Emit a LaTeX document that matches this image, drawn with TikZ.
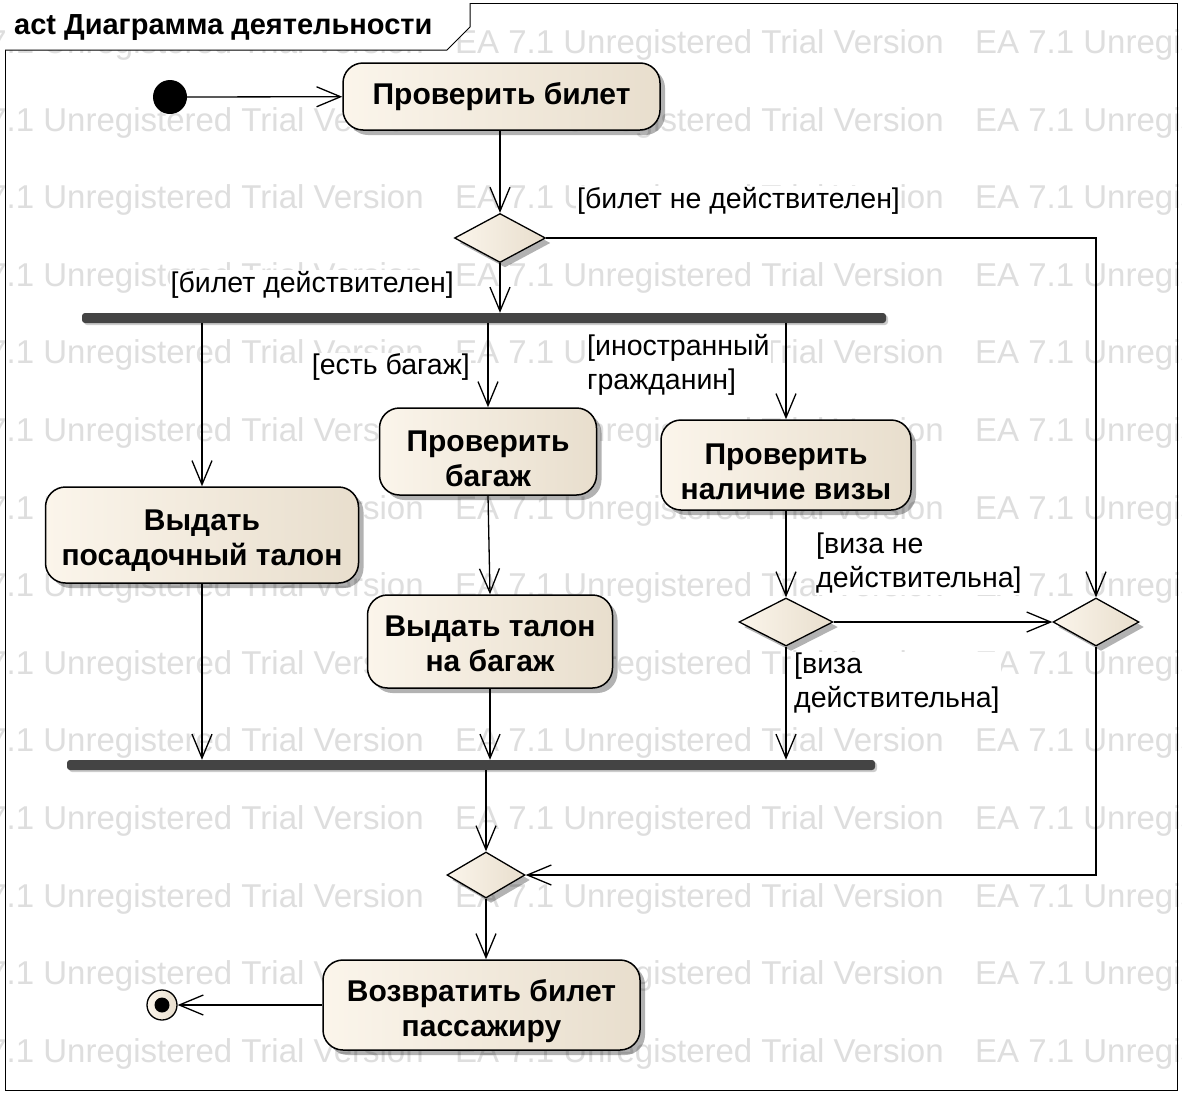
\documentclass[tikz,border=0pt]{standalone}
\usepackage{fontspec}
\setmainfont{Liberation Sans}
\usetikzlibrary{shapes.geometric,arrows.meta,shadows}
\definecolor{creamL}{HTML}{FBF5EB}
\definecolor{creamR}{HTML}{E8DECD}
\definecolor{barc}{HTML}{444444}
\definecolor{wmark}{HTML}{DEDEDE}
\newcommand\tpush[1]{\rule{0pt}{#1}}
\tikzset{
  shd/.style={drop shadow={shadow xshift=5pt,shadow yshift=-5pt,opacity=0.3,fill=black}},
  act/.style={rounded corners=20pt,draw=black,line width=1.5pt,left color=creamL,right color=creamR,shd,
    align=center,font=\bfseries\fontsize{30}{35}\selectfont,inner sep=2pt},
  dec/.style={diamond,draw=black,line width=1.3pt,left color=creamL,right color=creamR,shd,inner sep=0pt},
  bar/.style={rectangle,rounded corners=3pt,fill=barc,inner sep=0pt,minimum height=10pt,
    drop shadow={shadow xshift=2pt,shadow yshift=-2pt,opacity=0.2,fill=black}},
  flow/.style={line width=1.3pt,-{Straight Barb[length=24pt,width=20pt,line width=1.3pt]}},
  guard/.style={fill=white,inner sep=1pt,font=\fontsize{28.5}{34}\selectfont,align=left},
  wm/.style={text=wmark,inner sep=0pt,anchor=west,font=\fontsize{33}{36}\selectfont},
}
\begin{document}
\begin{tikzpicture}[x=1pt,y=-1pt]
\useasboundingbox (0,0) rectangle (1182,1095);
\fill[white] (0,0) rectangle (1182,1095);
% watermark
\begin{scope}
\clip (0,0) rectangle (1182,1095);
\foreach \r in {0,...,13}{
  \foreach \c/\xx in {0/-65,1/455,2/975}{
    \node[wm] (wm-\r-\c) at (\xx,45+77.6*\r) {EA 7.1 Unregistered Trial Version};
  }
}
\end{scope}
% frame
\draw[line width=1pt] (5,3) rectangle (1177,1090);
\path[fill=white] (5,3) -- (470,3) -- (470,27) -- (447,50) -- (5,50) -- cycle;
\draw[line width=1pt] (5,50) -- (447,50) -- (470,27) -- (470,3);
\node[anchor=west,inner sep=0pt,font=\bfseries\fontsize{29}{34}\selectfont] (title) at (14,28) {act Диаграмма деятельности};

% nodes
\node[circle,fill=black,minimum size=34pt,inner sep=0pt] (init) at (170,97) {};
\node[act,minimum width=317pt,minimum height=67pt] (check) at (501.5,96.5) {Проверить билет};
\node[dec,minimum width=91pt,minimum height=49pt] (d1) at (500,238) {};
\node[bar,minimum width=804pt] (fork1) at (484,318) {};
\node[act,minimum width=313pt,minimum height=96pt] (board) at (202,535) {\tpush{32pt}Выдать\\посадочный талон};
\node[act,minimum width=217pt,minimum height=87pt] (bag) at (488,451.5) {\tpush{36pt}Проверить\\багаж};
\node[act,minimum width=250pt,minimum height=90pt] (visa) at (786,465) {\tpush{34pt}Проверить\\наличие визы};
\node[act,minimum width=245pt,minimum height=93pt] (tag) at (490,641.5) {\tpush{26pt}Выдать талон\\на багаж};
\node[dec,minimum width=94pt,minimum height=48pt] (d2) at (786,622) {};
\node[dec,minimum width=86pt,minimum height=48pt] (d3) at (1096,622) {};
\node[bar,minimum width=808pt] (fork2) at (471,765) {};
\node[dec,minimum width=78pt,minimum height=46pt] (d4) at (486,875) {};
\node[act,minimum width=317pt,minimum height=90pt] (ret) at (481.5,1005) {\tpush{34pt}Возвратить билет\\пассажиру};
\node[circle,draw=black,line width=1.3pt,left color=creamL,right color=creamR,minimum size=30pt,inner sep=0pt] (final) at (162,1005) {};
\node[circle,fill=black,minimum size=15pt,inner sep=0pt] (finaldot) at (final.center) {};

% connectors
\draw[flow] (init) -- (check);
\draw[flow] (check.south -| d1.north) -- (d1.north);
\draw[flow] (d1.east) -| (d3.north);
\draw[flow] (d1.south) -- (d1.south |- fork1.north);
\draw[flow] (fork1.south -| board.north) -- (board.north);
\draw[flow] (fork1.south -| bag.north) -- (bag.north);
\draw[flow] (fork1.south -| visa.north) -- (visa.north);
\draw[flow] (bag.south) -- (tag.north);
\draw[flow] (visa.south -| d2.north) -- (d2.north);
\draw[flow] (d2.east) -- (d3.west);
\draw[flow] (d2.south) -- (d2.south |- fork2.north);
\draw[flow] (board.south) -- (board.south |- fork2.north);
\draw[flow] (tag.south) -- (tag.south |- fork2.north);
\draw[flow] (fork2.south -| d4.north) -- (d4.north);
\draw[flow] (d3.south) |- (d4.east);
\draw[flow] (d4.south) -- (d4.south |- ret.north);
\draw[flow] (ret.west) -- (final.east);

% guards
\node[guard,anchor=west] (g1) at (576,201) {[билет не действителен]};
\node[guard,anchor=east] (g2) at (455,285) {[билет действителен]};
\node[guard,anchor=east] (g3) at (471,367) {[есть багаж]};
\node[guard,anchor=north west] (g4) at (586,333) {[иностранный\\гражданин]};
\node[guard,anchor=north west] (g5) at (815,532) {[виза не\\действительна]};
\node[guard,anchor=north west] (g6) at (793,652) {[виза\\действительна]};
\end{tikzpicture}
\end{document}
